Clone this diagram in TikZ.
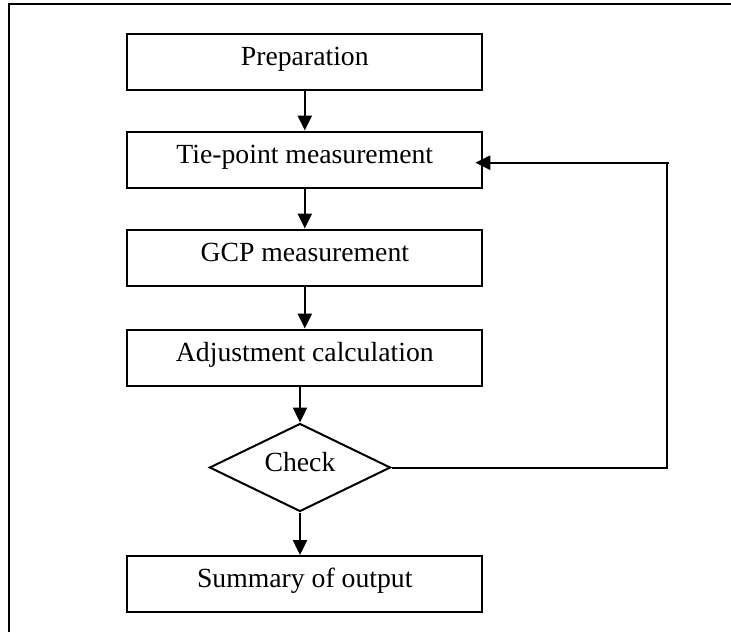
\documentclass[tikz,border=0pt]{standalone}
\usepackage{fontspec}
\setmainfont{Liberation Serif}
\usepackage{tikz}
\usetikzlibrary{shapes.geometric, arrows.meta, positioning}
\tikzstyle{process} = [rectangle, minimum width=355pt, minimum height=56pt, text centered, text height=18pt, text depth=11pt, inner sep=0pt, draw=black, line width=2pt]
\tikzstyle{decision} = [diamond, aspect=2.06, minimum width=181pt, minimum height=88pt, text centered, text height=18pt, text depth=11pt, inner sep=0pt, draw=black, line width=2pt]
\tikzstyle{arrow} = [line width=2.4pt, -{Triangle[length=15pt, width=14pt]}]
\tikzstyle{loopline} = [line width=2pt]

\begin{document}
\begin{tikzpicture}[x=1pt, y=-1pt, node distance=40pt, every node/.style={font=\fontsize{27.7}{32}\selectfont}]
      \useasboundingbox (0,0) rectangle (731,632);
      \draw [line width=2.5pt] (9,632) -- (9,4) -- (731,4);

      \node (prep)   [process] at (304.8,61.5)              {Preparation};
      \node (tie)    [process,  below=40pt of prep]         {Tie-point measurement};
      \node (gcp)    [process,  below=40pt of tie]          {GCP measurement};
      \node (adj)    [process,  below=42pt of gcp]          {Adjustment calculation};
      \node (check)  [decision] at (300,467.5)              {Check};
      \node (sum)    [process] at (304.8,584)               {Summary of output};

      \coordinate (loopturn) at (666.7,162.7);
      \coordinate (loopend)  at (668.7,162.7);

      \draw [arrow] (prep)  -- (tie);
      \draw [arrow] (tie)   -- (gcp);
      \draw [arrow] (gcp)   -- (adj);
      \draw [arrow] (adj.south -| check.north) -- (check.north);
      \draw [arrow] (check.south) -- (check.south |- sum.north);
      \draw [loopline] (check.east) -| (loopturn);
      \draw [arrow, shorten >=-8pt] (loopend) -- (loopend -| tie.east);
    \end{tikzpicture}
\end{document}
